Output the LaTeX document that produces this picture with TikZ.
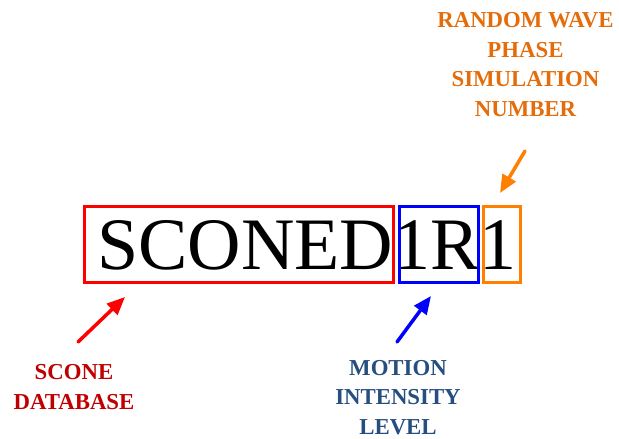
\documentclass[tikz,border=0pt]{standalone}
\usepackage{fontspec}
\setmainfont{Liberation Serif}
\usepackage{xcolor}
\usetikzlibrary{arrows.meta}
\definecolor{boxred}{RGB}{255,0,0}
\definecolor{boxblue}{RGB}{0,0,255}
\definecolor{boxorange}{RGB}{255,128,0}
\definecolor{txtred}{RGB}{192,0,0}
\definecolor{txtblue}{RGB}{38,78,128}
\definecolor{txtorange}{RGB}{228,108,10}
\begin{document}
\begin{tikzpicture}[x=1pt,y=-1pt,inner sep=0pt]
\tikzstyle{part}=[rectangle,draw,line width=3pt,minimum height=76pt]
\tikzstyle{tag}=[align=center,font=\fontsize{22.8}{29.5}\selectfont\bfseries]
\tikzstyle{pointer}=[line width=3.5pt,line cap=round,-{Triangle[length=18pt,width=15pt]}]
\useasboundingbox (0,0) rectangle (619,439);
\node[anchor=base west,font=\fontsize{74}{74}\selectfont] (code) at (97,269) {SCONED1R1};
\node[part,boxred,minimum width=309pt] (db) at (239,244) {};
\node[part,boxblue,minimum width=79pt] (level) at (439,244) {};
\node[part,boxorange,minimum width=37pt] (phase) at (502,244) {};
\node[tag,txtred] (dbtag) at (74,387) {SCONE\\DATABASE};
\node[tag,txtblue] (leveltag) at (398,397.5) {MOTION\\INTENSITY\\LEVEL};
\node[tag,txtorange] (phasetag) at (525.5,64.75) {RANDOM WAVE\\PHASE\\SIMULATION\\NUMBER};
\coordinate (dbtail) at (78,342);
\coordinate (dbtip) at (125,297);
\coordinate (leveltail) at (397,342);
\coordinate (leveltip) at (431,296);
\coordinate (phasetail) at (525,151);
\coordinate (phasetip) at (500,193);
\draw[pointer,boxred] (dbtail) -- (dbtip);
\draw[pointer,boxblue] (leveltail) -- (leveltip);
\draw[pointer,boxorange] (phasetail) -- (phasetip);
\end{tikzpicture}
\end{document}
